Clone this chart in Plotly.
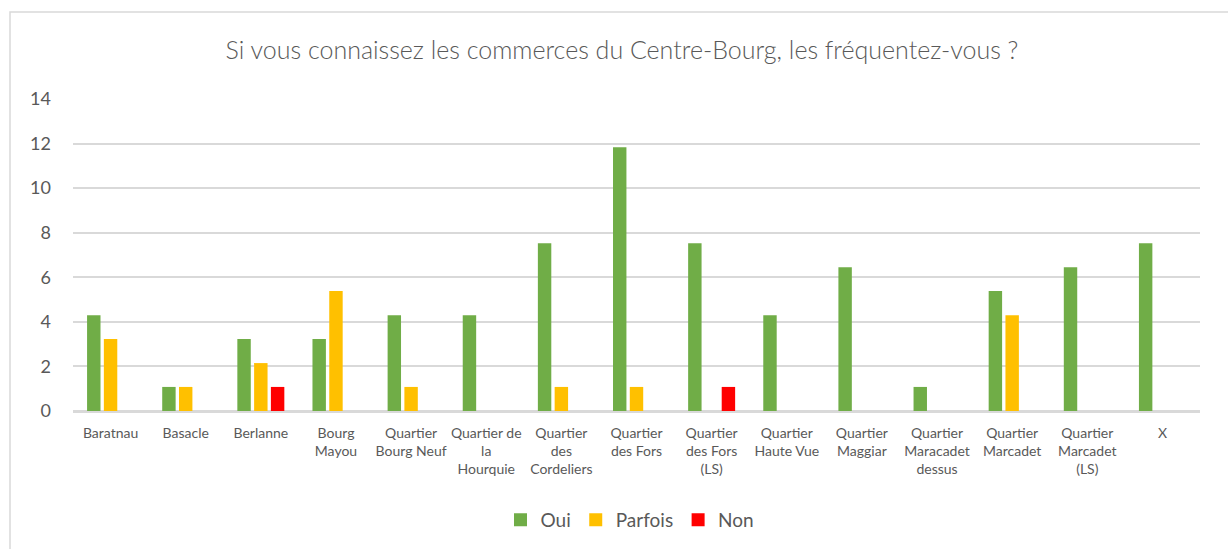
import plotly.graph_objects as go

categories = [
    "Baratnau", "Basacle", "Berlanne", "Bourg<br>Mayou", "Quartier<br>Bourg Neuf",
    "Quartier de<br>la<br>Hourquie", "Quartier<br>des<br>Cordeliers", "Quartier<br>des Fors",
    "Quartier<br>des Fors<br>(LS)", "Quartier<br>Haute Vue", "Quartier<br>Maggiar",
    "Quartier<br>Maracadet<br>dessus", "Quartier<br>Marcadet", "Quartier<br>Marcadet<br>(LS)", "X",
]
oui = [4.30, 1.08, 3.23, 3.23, 4.30, 4.30, 7.53, 11.83, 7.53, 4.30, 6.45, 1.08, 5.38, 6.45, 7.53]
parfois = [3.23, 1.08, 2.15, 5.38, 1.08, None, 1.08, 1.08, None, None, None, None, 4.30, None, None]
non = [None, None, 1.08, None, None, None, None, None, 1.08, None, None, None, None, None, None]

series = [("Oui", oui, "#70AD47"), ("Parfois", parfois, "#FFC000"), ("Non", non, "#FF0000")]

FONT = "Lato"
GREY = "#595959"

fig = go.Figure()
for name, vals, color in series:
    fig.add_trace(go.Bar(
        x=categories, y=vals, name=name, showlegend=False,
        marker=dict(color=color, line=dict(width=0)),
    ))
# square legend swatches
for name, vals, color in series:
    fig.add_trace(go.Scatter(
        x=[None], y=[None], mode="markers", name=name,
        marker=dict(symbol="square", size=13, color=color),
    ))

fig.update_layout(
    width=1228, height=549,
    paper_bgcolor="white", plot_bgcolor="white",
    margin=dict(l=73, r=28, t=99, b=138, autoexpand=False),
    barmode="group", bargap=0.33, bargroupgap=0.2,
    font=dict(family=FONT, color=GREY),
    title=dict(
        text="Si vous connaissez les commerces du Centre-Bourg, les fréquentez-vous ?",
        x=622 / 1228, xanchor="center", y=1 - 50 / 549, yanchor="middle",
        font=dict(family=FONT, size=25, color=GREY, weight=300),
    ),
    legend=dict(
        orientation="h", xref="container", yref="container",
        x=630 / 1228, xanchor="center", y=1 - 520 / 549, yanchor="middle",
        font=dict(family=FONT, size=19, color=GREY),
        itemwidth=30, traceorder="normal",
    ),
    xaxis=dict(
        showgrid=False, showline=True, linecolor="#D9D9D9", linewidth=1.5,
        tickfont=dict(family=FONT, size=14, color=GREY), ticks="",
        tickangle=0, ticklabelstandoff=8,
    ),
    yaxis=dict(
        range=[0, 14], dtick=2, showgrid=True, gridcolor="#D9D9D9", gridwidth=1.5,
        zeroline=True, zerolinecolor="#D9D9D9", zerolinewidth=1.5,
        showline=False, ticks="", ticklabelstandoff=21,
        tickfont=dict(family=FONT, size=18, color=GREY),
    ),
    shapes=[dict(
        type="rect", xref="paper", yref="paper",
        x0=(10 - 73) / 1127, x1=1.05, y0=-0.6, y1=1 + (99 - 12) / 312,
        line=dict(color="#D9D9D9", width=1.5), fillcolor="rgba(0,0,0,0)", layer="below",
    )],
)

fig.write_html("out.html")
